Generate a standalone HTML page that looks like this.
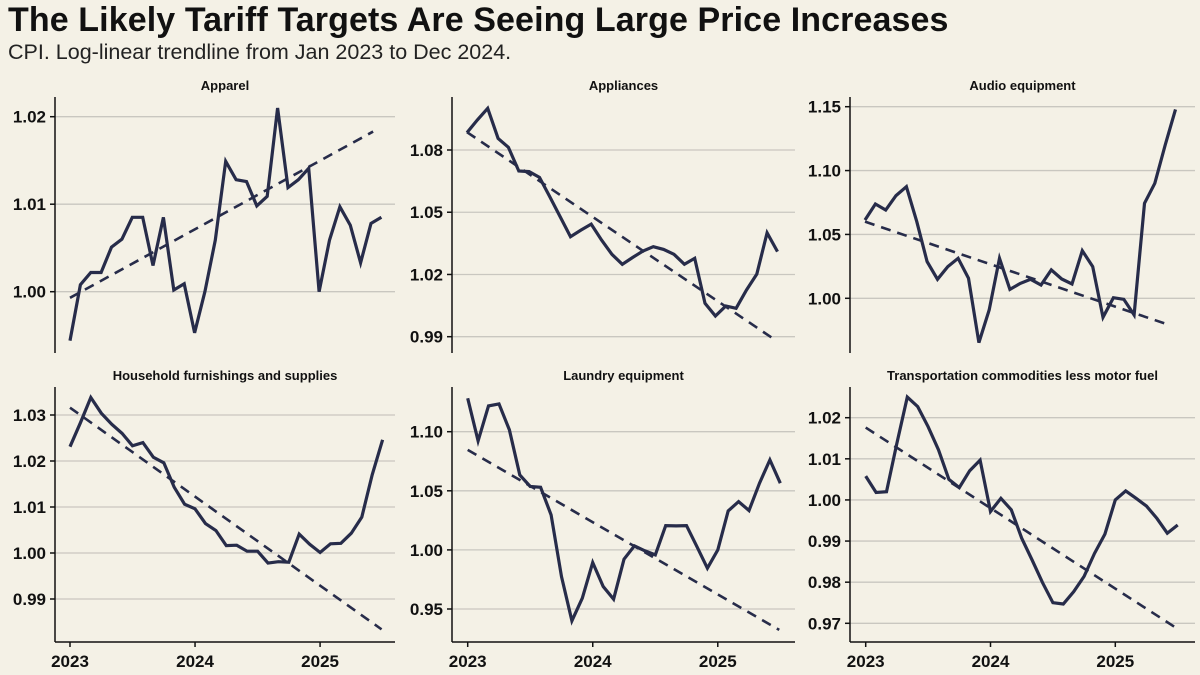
<!DOCTYPE html>
<html><head><meta charset="utf-8">
<style>
body{margin:0;background:#f4f1e6;}
#wrap{position:relative;width:1200px;height:675px;background:#f4f1e6;font-family:"Liberation Sans",sans-serif;overflow:hidden}
h1{position:absolute;left:8px;top:1px;margin:0;font-size:34px;font-weight:bold;color:#111;letter-spacing:0.1px}
p.sub{position:absolute;left:8px;top:40px;margin:0;font-size:21.5px;color:#222}
svg{position:absolute;left:0;top:0}
</style></head><body>
<div id="wrap">
<h1>The Likely Tariff Targets Are Seeing Large Price Increases</h1>
<p class="sub">CPI. Log-linear trendline from Jan 2023 to Dec 2024.</p>
<svg id="svg" width="1200" height="675"></svg>
</div>
<script>
const panelTitles = ["Apparel","Appliances","Audio equipment","Household furnishings and supplies","Laundry equipment","Transportation commodities less motor fuel"];
const apparel = [0.9944,1.0008,1.0022,1.0022,1.0051,1.0060,1.0085,1.0085,1.0030,1.0085,1.0002,1.0009,0.9953,1.0000,1.0059,1.0149,1.0128,1.0126,1.0098,1.0109,1.0210,1.0119,1.0128,1.0141,1.0000,1.0059,1.0097,1.0076,1.0033,1.0078,1.0085];
const appliances = [1.0884,1.0945,1.1001,1.0856,1.0813,1.0699,1.0696,1.0668,1.0575,1.0479,1.0382,1.0414,1.0443,1.0366,1.0297,1.0249,1.0282,1.0313,1.0334,1.0321,1.0297,1.0249,1.0278,1.0061,1.0000,1.0048,1.0037,1.0125,1.0202,1.0401,1.0310];
const audio = [1.0613,1.0738,1.0691,1.0804,1.0874,1.0600,1.0287,1.0149,1.0248,1.0313,1.0157,0.9653,0.9909,1.0313,1.0070,1.0117,1.0149,1.0104,1.0222,1.0151,1.0112,1.0373,1.0248,0.9851,1.0005,0.9992,0.9870,1.0744,1.0900,1.1200,1.1479];
const household = [1.0231,1.0283,1.0338,1.0304,1.0280,1.0260,1.0233,1.0240,1.0208,1.0196,1.0143,1.0106,1.0096,1.0064,1.0049,1.0016,1.0017,1.0004,1.0004,0.9978,0.9981,0.9980,1.0041,1.0019,1.0001,1.0020,1.0021,1.0043,1.0078,1.0170,1.0246];
const laundry = [1.1283,1.0922,1.1218,1.1235,1.1015,1.0634,1.0536,1.0530,1.0296,0.9774,0.9400,0.9591,0.9893,0.9690,0.9583,0.9921,1.0034,0.9992,0.9958,1.0206,1.0203,1.0206,1.0028,0.9845,1.0000,1.0330,1.0409,1.0333,1.0564,1.0761,1.0564];
const transport = [1.0058,1.0018,1.0020,1.0138,1.0250,1.0227,1.0178,1.0122,1.0050,1.0030,1.0071,1.0097,0.9972,1.0004,0.9976,0.9907,0.9854,0.9799,0.9750,0.9747,0.9777,0.9814,0.9870,0.9917,1.0000,1.0022,1.0004,0.9985,0.9955,0.9919,0.9939];
const trendStart = [0.9993,1.0886,1.0600,1.0316,1.0846,1.0176];
const trendEnd = [1.0183,0.9897,0.9791,0.9834,0.9323,0.9688];
const trendEndMonth = [29.2,29.4,29.4,29.9,29.9,29.9];
const yTicks = [[1.00,1.01,1.02],[0.99,1.02,1.05,1.08],[1.00,1.05,1.10,1.15],[0.99,1.00,1.01,1.02,1.03],[0.95,1.00,1.05,1.10],[0.97,0.98,0.99,1.00,1.01,1.02]];
const yTickLabels = [["1.00","1.01","1.02"],["0.99","1.02","1.05","1.08"],["1.00","1.05","1.10","1.15"],["0.99","1.00","1.01","1.02","1.03"],["0.95","1.00","1.05","1.10"],["0.97","0.98","0.99","1.00","1.01","1.02"]];
const xTickMonths = [0,12,24];
const xTickLabels = ["2023","2024","2025"];
const series = [apparel,appliances,audio,household,laundry,transport];

const layout = [
 [55,395,70,10.38,97,353,1.02,116.7,1.00,291.7],
 [452,795,467,10.35,97,353,1.08,150,0.99,336.7],
 [850,1195,865,10.35,97,353,1.15,106.7,1.00,298.3],
 [55,395,70,10.42,387,642,1.03,415,0.99,599],
 [452,795,467.7,10.42,387,642,1.10,431.7,0.95,609],
 [850,1195,865.7,10.4,387,642,1.02,417.7,0.97,623.3]
];
const NS="http://www.w3.org/2000/svg";
const svg=document.getElementById('svg');
function mk(tag,attrs,parent){const e=document.createElementNS(NS,tag);for(const k in attrs)e.setAttribute(k,attrs[k]);(parent||svg).appendChild(e);return e;}
const C="#272c4a";
series.forEach((data,p)=>{
  const L=layout[p];
  const g=mk('g',{});
  
  
  const xs=m=>L[2]+m*L[3];
  const ys=v=>L[7]+(v-L[6])*(L[9]-L[7])/(L[8]-L[6]);
  const t=mk('text',{x:(L[0]+L[1])/2,y:L[4]-7,'text-anchor':'middle','font-size':'13','font-weight':'bold',fill:'#111'},g);
  t.textContent=panelTitles[p];
  
  
  yTicks[p].forEach((v,i)=>{
    const gl=mk('line',{x1:L[0],x2:L[1],y1:ys(v),y2:ys(v),stroke:'#c9c7c0','stroke-width':1.3},g);
    
    
    const tk=mk('line',{x1:L[0]-5,x2:L[0],y1:ys(v),y2:ys(v),stroke:'#111','stroke-width':1.5},g);
    
    
    const tl=mk('text',{x:L[0]-9,y:ys(v)+6,'text-anchor':'end','font-size':'17','font-weight':'bold',fill:'#111'},g);
    tl.textContent=yTickLabels[p][i];
    
    
  });
  const ax=mk('line',{x1:L[0],x2:L[0],y1:L[4],y2:L[5],stroke:'#111','stroke-width':1.5},g);
  
  
  if(p>=3){
    const xa=mk('line',{x1:L[0],x2:L[1],y1:L[5],y2:L[5],stroke:'#111','stroke-width':1.5},g);
    
    
    xTickMonths.forEach((m,i)=>{
      const tk=mk('line',{x1:xs(m),x2:xs(m),y1:L[5],y2:L[5]+5,stroke:'#111','stroke-width':1.5},g);
      
      
      const tl=mk('text',{x:xs(m),y:L[5]+25,'text-anchor':'middle','font-size':'17','font-weight':'bold',fill:'#111'},g);
      tl.textContent=xTickLabels[i];
      
      
    });
  }
  const tr=mk('line',{x1:xs(0),y1:ys(trendStart[p]),x2:xs(trendEndMonth[p]),y2:ys(trendEnd[p]),stroke:C,'stroke-width':2.6,'stroke-dasharray':'10 7'},g);
  
  
  const pts=data.map((v,i)=>xs(i).toFixed(1)+','+ys(v).toFixed(1)).join(' ');
  const pl=mk('polyline',{points:pts,fill:'none',stroke:C,'stroke-width':3.2,'stroke-linejoin':'miter','stroke-miterlimit':4},g);
  
  
});
</script>
</body></html>
